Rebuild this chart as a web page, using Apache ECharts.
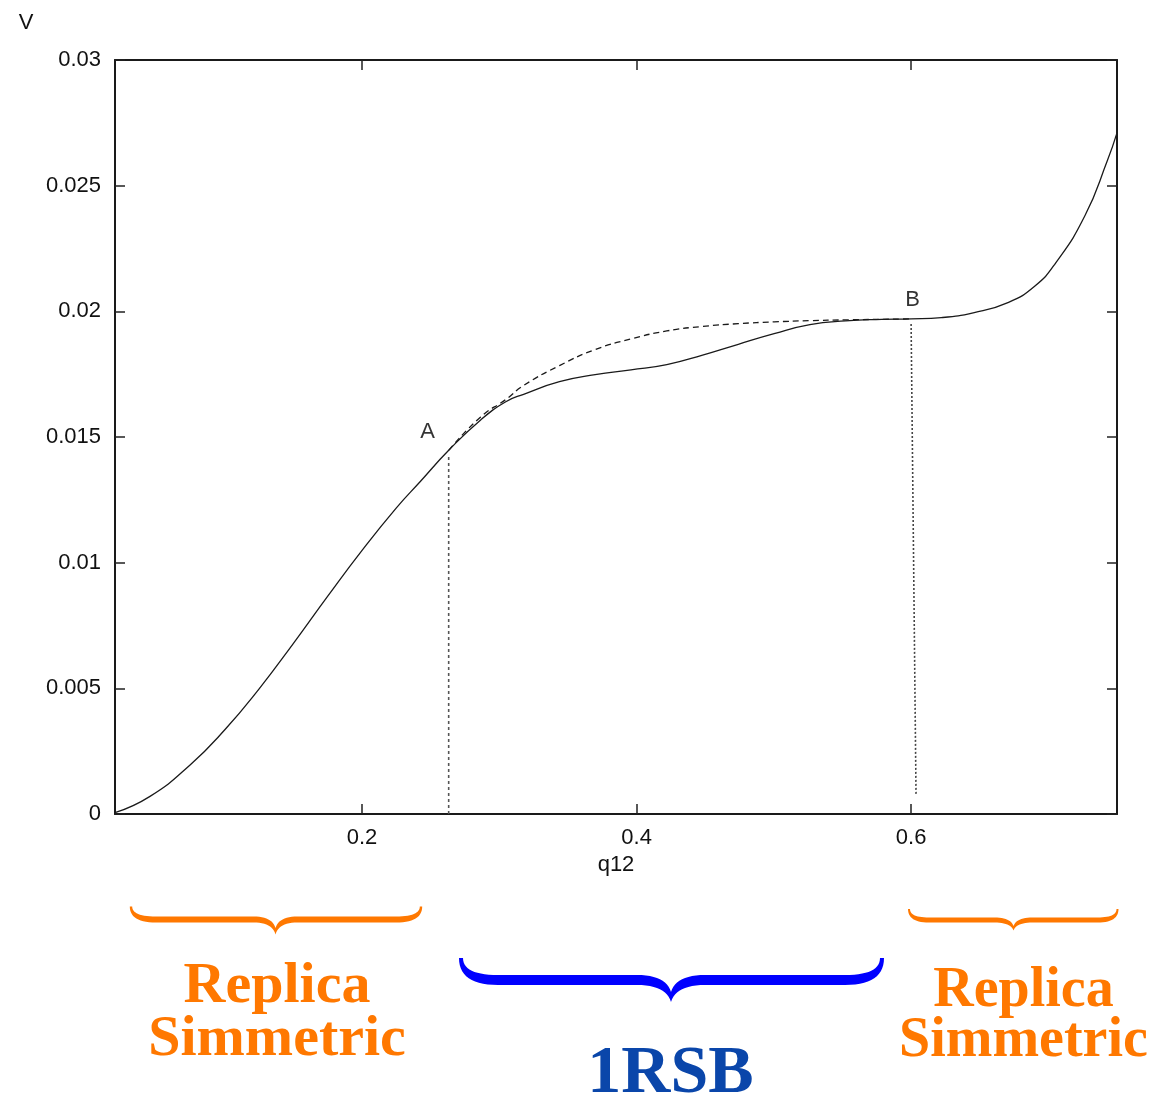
<!DOCTYPE html>
<html>
<head>
<meta charset="utf-8">
<script src="https://cdn.jsdelivr.net/npm/echarts@6/dist/echarts.min.js"></script>
<style>
html,body{margin:0;padding:0;background:#fff;}
#chart{width:1154px;height:1094px;}
</style>
</head>
<body>
<div id="chart"></div>
<script>
// ---- data ----
const xMin = 0.02, xMax = 0.75;
const yMin = 0, yMax = 0.03, yStep = 0.005;
const xTicks = [0.2, 0.4, 0.6];
const xTickLabels = ['0.2', '0.4', '0.6'];
const yTickLabels = ['0', '0.005', '0.01', '0.015', '0.02', '0.025', '0.03'];

const solidQ = [0.02, 0.0455, 0.0747, 0.1, 0.125, 0.15, 0.175, 0.2, 0.225, 0.2426, 0.2633, 0.2864, 0.3047, 0.3177, 0.3438, 0.3698, 0.3959, 0.422, 0.4481, 0.4741, 0.5002, 0.5263, 0.5523, 0.5784, 0.6, 0.622, 0.646, 0.671, 0.69, 0.705, 0.7266, 0.743, 0.75];
const solidV = [0.00005, 0.0007, 0.00195, 0.00335, 0.00498, 0.00679, 0.00867, 0.01049, 0.01218, 0.01324, 0.01448, 0.01568, 0.0164, 0.0167, 0.0172, 0.01748, 0.01767, 0.01788, 0.01826, 0.01869, 0.01911, 0.01947, 0.01962, 0.01968, 0.0197, 0.01975, 0.01995, 0.02036, 0.021, 0.0219, 0.0238, 0.026, 0.0271];

const dashedQ = [0.2633, 0.2864, 0.3047, 0.3177, 0.3438, 0.3698, 0.3959, 0.422, 0.4481, 0.4741, 0.5002, 0.5263, 0.5523, 0.6];
const dashedV = [0.01448, 0.0158, 0.01649, 0.01705, 0.01784, 0.01848, 0.0189, 0.01922, 0.0194, 0.01951, 0.01958, 0.01963, 0.01966, 0.0197];

const dropAQ = [0.2631, 0.2631];
const dropAV = [0, 0.0143];
const dropBQ = [0.6, 0.6036];
const dropBV = [0.0195, 0.00075];

const pointLabels = ['A', 'B'];
const pointLabelQ = [0.2477, 0.601];
const pointLabelV = [0.0152, 0.02045];

const regionTexts = [['Replica', 'Simmetric'], ['1RSB'], ['Replica', 'Simmetric']];

// ---- helpers ----
const zip = (a, b) => a.map((v, i) => [v, b[i]]);

function quad(p0, p1, p2, n) {
  const pts = [];
  for (let i = 1; i <= n; i++) {
    const t = i / n, u = 1 - t;
    pts.push([u*u*p0[0] + 2*u*t*p1[0] + t*t*p2[0], u*u*p0[1] + 2*u*t*p1[1] + t*t*p2[1]]);
  }
  return pts;
}
function brace(b) {
  const {xL, xR, yEnd, barTop, barBot, notch, tip, curlW, tipW, endHalf} = b;
  const xc = (b.xc !== undefined) ? b.xc : (xL + xR) / 2;
  let pts = [[xL - endHalf, yEnd]];
  pts = pts.concat(quad([xL - endHalf, yEnd], [xL - endHalf, barBot], [xL + curlW, barBot], 14));
  pts.push([xc - tipW, barBot]);
  pts = pts.concat(quad([xc - tipW, barBot], [xc - tipW * 0.15, barBot], [xc, tip], 12));
  pts = pts.concat(quad([xc, tip], [xc + tipW * 0.15, barBot], [xc + tipW, barBot], 12));
  pts.push([xR - curlW, barBot]);
  pts = pts.concat(quad([xR - curlW, barBot], [xR + endHalf, barBot], [xR + endHalf, yEnd], 14));
  pts.push([xR - endHalf, yEnd]);
  pts = pts.concat(quad([xR - endHalf, yEnd], [xR - endHalf, barTop], [xR - curlW, barTop], 14));
  pts.push([xc + tipW, barTop]);
  pts = pts.concat(quad([xc + tipW, barTop], [xc + tipW * 0.15, barTop], [xc, notch], 12));
  pts = pts.concat(quad([xc, notch], [xc - tipW * 0.15, barTop], [xc - tipW, barTop], 12));
  pts.push([xL + curlW, barTop]);
  pts = pts.concat(quad([xL + curlW, barTop], [xL + endHalf, barTop], [xL + endHalf, yEnd], 14));
  return pts;
}

const ORANGE = '#ff7800';
const BLUE_BRACE = '#0000ff';
const BLUE_TEXT = '#0a46aa';

const braceLeft = brace({xL: 131, xR: 421, xc: 275.5, yEnd: 906.5, barTop: 916.5, barBot: 922.5, notch: 928, tip: 934.5, curlW: 25, tipW: 22, endHalf: 1.2});
const braceMid = brace({xL: 461, xR: 882, xc: 671, yEnd: 958, barTop: 975, barBot: 985, notch: 992, tip: 1002, curlW: 37, tipW: 34, endHalf: 2});
const braceRight = brace({xL: 909, xR: 1117.5, xc: 1013.5, yEnd: 909, barTop: 917.5, barBot: 922.5, notch: 926, tip: 930.5, curlW: 20, tipW: 19, endHalf: 1});

const serif = '"Liberation Serif", "DejaVu Serif", serif';
const sans = '"Liberation Sans", Arial, sans-serif';

const chart = echarts.init(document.getElementById('chart'), null, {renderer: 'canvas'});

const axisLineStyle = {color: '#1a1a1a', width: 2};
const tickStyle = {color: '#222', width: 1.5};

const option = {
  animation: false,
  backgroundColor: '#fff',
  grid: {left: 115, right: 37, top: 60, bottom: 280, containLabel: false},
  xAxis: [
    {
      type: 'value', min: xMin, max: xMax, position: 'bottom',
      axisLine: {show: true, onZero: false, lineStyle: axisLineStyle},
      axisTick: {show: true, inside: true, length: 10, customValues: xTicks, lineStyle: tickStyle},
      axisLabel: {show: true, customValues: xTicks, margin: 13, fontSize: 22, fontFamily: sans, color: '#111',
        formatter: v => { const i = xTicks.findIndex(t => Math.abs(t - v) < 1e-9); return i >= 0 ? xTickLabels[i] : ''; }},
      splitLine: {show: false},
      name: 'q12', nameLocation: 'middle', nameGap: 40,
      nameTextStyle: {fontSize: 22, fontFamily: sans, color: '#111'}
    },
    {
      type: 'value', min: xMin, max: xMax, position: 'top',
      axisLine: {show: true, onZero: false, lineStyle: axisLineStyle},
      axisTick: {show: true, inside: true, length: 10, customValues: xTicks, lineStyle: tickStyle},
      axisLabel: {show: false},
      splitLine: {show: false}
    }
  ],
  yAxis: [
    {
      type: 'value', min: yMin, max: yMax, interval: yStep, position: 'left',
      axisLine: {show: true, onZero: false, lineStyle: axisLineStyle},
      axisTick: {show: true, inside: true, length: 10, lineStyle: tickStyle},
      axisLabel: {show: true, margin: 14, fontSize: 22, fontFamily: sans, color: '#111',
        formatter: v => yTickLabels[Math.round(v / yStep)]},
      splitLine: {show: false}
    },
    {
      type: 'value', min: yMin, max: yMax, interval: yStep, position: 'right',
      axisLine: {show: true, onZero: false, lineStyle: axisLineStyle},
      axisTick: {show: true, inside: true, length: 10, lineStyle: tickStyle},
      axisLabel: {show: false},
      splitLine: {show: false}
    }
  ],
  series: [
    {
      type: 'line', name: 'V', data: zip(solidQ, solidV), smooth: 0.5,
      showSymbol: false, symbol: 'none', clip: true,
      lineStyle: {color: '#1a1a1a', width: 1.3}
    },
    {
      type: 'line', name: 'RS', data: zip(dashedQ, dashedV), smooth: 0.5,
      showSymbol: false, symbol: 'none',
      lineStyle: {color: '#1a1a1a', width: 1.3, type: [6, 4]}
    },
    {
      type: 'line', name: 'dropA', data: zip(dropAQ, dropAV), showSymbol: false, symbol: 'none',
      lineStyle: {color: '#555', width: 1.6, type: [3, 3]}
    },
    {
      type: 'line', name: 'dropB', data: zip(dropBQ, dropBV), showSymbol: false, symbol: 'none',
      lineStyle: {color: '#444', width: 1.6, type: [2, 2]}
    },
    {
      type: 'scatter', name: 'labels',
      data: pointLabels.map((t, i) => [pointLabelQ[i], pointLabelV[i], t]),
      symbol: 'circle', symbolSize: 0, itemStyle: {color: '#000'},
      label: {show: true, position: 'inside', formatter: p => p.data[2], fontSize: 22, fontFamily: sans,
        color: '#000', textBorderWidth: 0}
    }
  ],
  graphic: [
    {type: 'text', x: 26, y: 22.5, style: {text: 'V', font: '22px ' + sans, fill: '#111', align: 'center', verticalAlign: 'middle'}},
    {type: 'polygon', shape: {points: braceLeft}, style: {fill: ORANGE}},
    {type: 'polygon', shape: {points: braceMid}, style: {fill: BLUE_BRACE}},
    {type: 'polygon', shape: {points: braceRight}, style: {fill: ORANGE}},
    {type: 'text', x: 277, y: 987, style: {text: regionTexts[0][0], font: 'bold 58px ' + serif, fill: ORANGE, align: 'center', verticalAlign: 'middle'}},
    {type: 'text', x: 277, y: 1040, style: {text: regionTexts[0][1], font: 'bold 58px ' + serif, fill: ORANGE, align: 'center', verticalAlign: 'middle'}},
    {type: 'text', x: 670.5, y: 1074, style: {text: regionTexts[1][0], font: 'bold 68px ' + serif, fill: BLUE_TEXT, align: 'center', verticalAlign: 'middle'}},
    {type: 'text', x: 1023.5, y: 992, style: {text: regionTexts[2][0], font: 'bold 56px ' + serif, fill: ORANGE, align: 'center', verticalAlign: 'middle'}},
    {type: 'text', x: 1023.5, y: 1042, style: {text: regionTexts[2][1], font: 'bold 56px ' + serif, fill: ORANGE, align: 'center', verticalAlign: 'middle'}}
  ]
};
chart.setOption(option);
</script>
</body>
</html>
